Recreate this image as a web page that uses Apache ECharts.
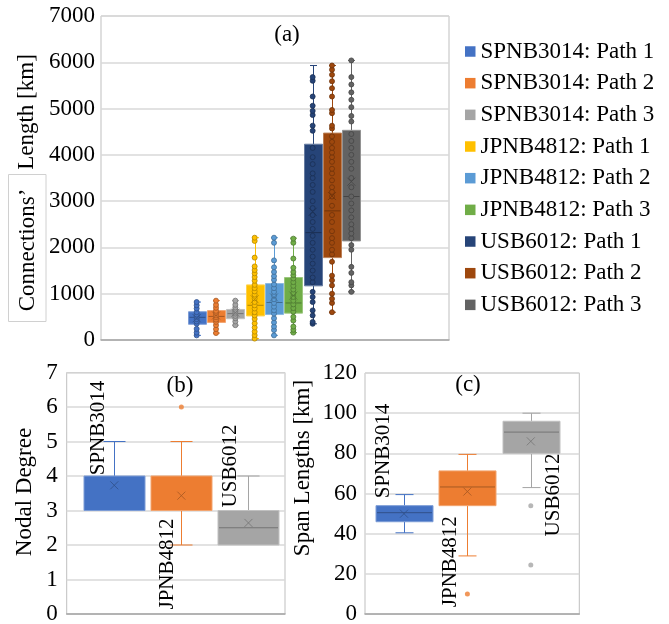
<!DOCTYPE html>
<html><head><meta charset="utf-8">
<script src="https://cdn.jsdelivr.net/npm/echarts@6.0.0/dist/echarts.min.js"></script>
<style>html,body{margin:0;padding:0;background:#fff}#c{width:669px;height:624px}</style>
</head><body><div id="c"></div>
<script>
// ---------- Panel (a): connections' length per path ----------
const pathNames = ['SPNB3014: Path 1','SPNB3014: Path 2','SPNB3014: Path 3',
  'JPNB4812: Path 1','JPNB4812: Path 2','JPNB4812: Path 3',
  'USB6012: Path 1','USB6012: Path 2','USB6012: Path 3'];
const pathColors = ['#4472C4','#ED7D31','#A5A5A5','#FFC000','#5B9BD5','#70AD47','#264478','#9E480E','#636363'];
// [min, Q1, median, Q3, max]
const pathStats = [
  [100, 340, 490, 610, 820],
  [150, 380, 510, 635, 850],
  [320, 460, 570, 660, 850],
  [30, 520, 750, 1190, 2210],
  [100, 550, 810, 1220, 2210],
  [160, 580, 800, 1350, 2200],
  [350, 1170, 2320, 4230, 5930],
  [600, 1780, 2790, 4470, 5930],
  [1040, 2140, 3100, 4530, 6040]
];
const pathMeans = [470, 530, 590, 880, 920, 960, 2770, 3110, 3420];
const pathPoints = [
  [100, 160, 240, 350, 400, 450, 500, 550, 600, 680, 750, 820],
  [150, 235, 320, 390, 440, 490, 530, 580, 630, 695, 760, 850],
  [320, 400, 470, 520, 570, 610, 650, 700, 760, 850],
  [30, 105, 180, 270, 360, 455, 530, 600, 680, 750, 820, 900, 980, 1050, 1120, 1190, 1280, 1360, 1440, 1510, 1590, 1780, 2140, 2210],
  [100, 215, 290, 380, 470, 570, 640, 720, 800, 880, 960, 1040, 1120, 1200, 1300, 1380, 1470, 1570, 1720, 2100, 2210],
  [160, 220, 290, 420, 500, 610, 690, 770, 850, 930, 1010, 1090, 1170, 1250, 1330, 1400, 1470, 1560, 1760, 2100, 2190],
  [350, 390, 530, 640, 820, 930, 1040, 1250, 1350, 1500, 1650, 1800, 1950, 2100, 2250, 2400, 2550, 2700, 2850, 3000, 3200, 3350, 3500, 3600, 3800, 3950, 4150, 4520, 4630, 4860, 4950, 5060, 5260, 5600, 5680],
  [600, 800, 890, 1000, 1180, 1290, 1390, 1690, 1850, 1950, 2100, 2200, 2350, 2550, 2700, 2900, 3100, 3200, 3300, 3450, 3600, 3700, 3850, 3950, 4050, 4150, 4280, 4400, 4570, 4630, 4900, 4970, 5260, 5440, 5590, 5730, 5840, 5930],
  [1040, 1180, 1250, 1450, 1580, 1950, 2050, 2200, 2300, 2400, 2500, 2650, 2800, 2950, 3100, 3300, 3500, 3700, 3850, 4000, 4150, 4300, 4450, 4720, 4840, 5030, 5190, 5350, 5520, 5680, 6040]
];

// ---------- Panels (b) and (c) ----------
const netNames = ['SPNB3014', 'JPNB4812', 'USB6012'];
const netColors = ['#4472C4', '#ED7D31', '#A5A5A5'];
const degreeStats = [[3, 3, 4, 4, 5], [2, 3, 3, 4, 5], [2, 2, 2.5, 3, 4]];
const degreeMeans = [3.73, 3.43, 2.64];
const degreeOutliers = [[], [6], []];
const spanStats = [[40.5, 46, 50.5, 54, 59.5], [29, 54, 63.3, 71.3, 79.5], [63, 80, 90.6, 96, 100]];
const spanMeans = [50, 61, 86];
const spanOutliers = [[], [10], [54, 24.5]];

const FONT = "'Liberation Serif','Times New Roman',serif";

function mix(hex, target, t) {
  const n = parseInt(hex.slice(1), 16);
  const r = (n >> 16) & 255, g = (n >> 8) & 255, b = n & 255;
  const f = v => Math.round(v + (target - v) * t);
  return 'rgb(' + f(r) + ',' + f(g) + ',' + f(b) + ')';
}
const dark = c => mix(c, 0, 0.3);
const light = c => mix(c, 255, 0.3);

function boxRenderer(colors, boxW, capW) {
  return function (params, api) {
    const i = api.value(0);
    const c = colors[i];
    const vMin = api.value(1), vQ1 = api.value(2), vMed = api.value(3), vQ3 = api.value(4), vMax = api.value(5);
    const yMin = api.coord([i, vMin])[1], yQ1 = api.coord([i, vQ1])[1], yMed = api.coord([i, vMed])[1];
    const yQ3 = api.coord([i, vQ3])[1], yMax = api.coord([i, vMax])[1];
    const x = Math.round(api.coord([i, vMin])[0]) + 0.5;
    const ls = { stroke: c, lineWidth: 1, fill: null };
    const ch = [];
    if (vMax > vQ3) {
      ch.push({ type: 'line', shape: { x1: x, y1: yQ3, x2: x, y2: yMax }, style: ls });
      ch.push({ type: 'line', shape: { x1: x - capW / 2, y1: yMax, x2: x + capW / 2, y2: yMax }, style: ls });
    }
    if (vMin < vQ1) {
      ch.push({ type: 'line', shape: { x1: x, y1: yQ1, x2: x, y2: yMin }, style: ls });
      ch.push({ type: 'line', shape: { x1: x - capW / 2, y1: yMin, x2: x + capW / 2, y2: yMin }, style: ls });
    }
    ch.push({ type: 'rect', shape: { x: x - boxW / 2, y: yQ3, width: boxW, height: yQ1 - yQ3 },
      style: { fill: c, stroke: light(c), lineWidth: 1 } });
    if (vMed > vQ1 && vMed < vQ3) {
      ch.push({ type: 'line', shape: { x1: x - boxW / 2 + 1, y1: yMed, x2: x + boxW / 2 - 1, y2: yMed },
        style: { stroke: dark(c), lineWidth: 1 } });
    }
    return { type: 'group', children: ch };
  };
}

const XSYM = 'path://M0,0L10,10M10,0L0,10';

function valueAxis(grid, max, interval, margin) {
  return {
    gridIndex: grid, type: 'value', min: 0, max: max, interval: interval,
    axisLine: { show: false }, axisTick: { show: false },
    axisLabel: { fontFamily: FONT, fontSize: 23, color: '#000', margin: margin, formatter: v => String(v) },
    splitLine: { lineStyle: { color: '#d9d9d9', width: 1.5 } }
  };
}
function hiddenValueAxis(grid, max) {
  return { gridIndex: grid, type: 'value', min: 0, max: max, show: false, splitLine: { show: false } };
}
function baseCat(grid) {
  return { gridIndex: grid, type: 'category', data: [''],
    axisLine: { show: true, lineStyle: { color: '#a6a6a6', width: 1.5 } },
    axisTick: { show: false }, axisLabel: { show: false }, splitLine: { show: false } };
}
function hiddenCat(grid, names) {
  return { gridIndex: grid, type: 'category', data: names, show: false, boundaryGap: true };
}

const gridStyle = { show: true, borderColor: '#bfbfbf', borderWidth: 1, backgroundColor: 'transparent', outerBoundsMode: 'none', containLabel: false };

const series = [];
// Panel (a)
series.push({
  type: 'custom', name: 'boxesA', xAxisIndex: 1, yAxisIndex: 1,
  renderItem: boxRenderer(pathColors, 18, 7),
  encode: { x: 0, y: [1, 2, 3, 4, 5] },
  data: pathStats.map((s, i) => [i].concat(s)), z: 2
});
pathNames.forEach((nm, i) => {
  series.push({
    type: 'scatter', name: nm, xAxisIndex: 1, yAxisIndex: 1,
    symbol: 'circle', symbolSize: 5,
    itemStyle: { color: pathColors[i], borderColor: dark(pathColors[i]), borderWidth: 0.8, opacity: 1 },
    data: pathPoints[i].map(v => [i, v]), z: 3
  });
});
series.push({
  type: 'scatter', name: 'meanA', xAxisIndex: 1, yAxisIndex: 1,
  symbol: XSYM, symbolSize: 8,
  data: pathMeans.map((v, i) => ({ value: [i, v], itemStyle: { color: 'none', borderColor: dark(pathColors[i]), borderWidth: 1 } })), z: 4
});
// Panel (b)
series.push({
  type: 'custom', name: 'boxesB', xAxisIndex: 3, yAxisIndex: 3,
  renderItem: boxRenderer(netColors, 61, 22),
  encode: { x: 0, y: [1, 2, 3, 4, 5] },
  data: degreeStats.map((s, i) => [i].concat(s)), z: 2
});
series.push({
  type: 'scatter', name: 'outB', xAxisIndex: 3, yAxisIndex: 3, symbol: 'circle', symbolSize: 5,
  data: degreeOutliers.flatMap((arr, i) => arr.map(v => ({ value: [i, v], itemStyle: { color: netColors[i] } }))), z: 3
});
series.push({
  type: 'scatter', name: 'meanB', xAxisIndex: 3, yAxisIndex: 3, symbol: XSYM, symbolSize: 8,
  data: degreeMeans.map((v, i) => ({ value: [i, v], itemStyle: { color: 'none', borderColor: dark(netColors[i]), borderWidth: 1 } })), z: 4
});
// Panel (c)
series.push({
  type: 'custom', name: 'boxesC', xAxisIndex: 5, yAxisIndex: 5,
  renderItem: boxRenderer(netColors, 57, 18),
  encode: { x: 0, y: [1, 2, 3, 4, 5] },
  data: spanStats.map((s, i) => [i].concat(s)), z: 2
});
series.push({
  type: 'scatter', name: 'outC', xAxisIndex: 5, yAxisIndex: 5, symbol: 'circle', symbolSize: 5,
  data: spanOutliers.flatMap((arr, i) => arr.map(v => ({ value: [i, v], itemStyle: { color: netColors[i] } }))), z: 3
});
series.push({
  type: 'scatter', name: 'meanC', xAxisIndex: 5, yAxisIndex: 5, symbol: XSYM, symbolSize: 8,
  data: spanMeans.map((v, i) => ({ value: [i, v], itemStyle: { color: 'none', borderColor: dark(netColors[i]), borderWidth: 1 } })), z: 4
});

function txt(text, x, y, size, rot) {
  return { type: 'text', x: x, y: y, rotation: rot || 0, z: 10,
    style: { text: text, fontFamily: FONT, fontSize: size, fill: '#000', align: 'center', verticalAlign: 'middle' } };
}
const R = Math.PI / 2;

const option = {
  animation: false,
  backgroundColor: '#fff',
  grid: [
    Object.assign({ left: 101, top: 16, width: 348, height: 324 }, gridStyle),
    { left: 187, top: 16, width: 174, height: 324, show: false, outerBoundsMode: 'none', containLabel: false },
    Object.assign({ left: 66.7, top: 372.5, width: 218.3, height: 241.5 }, gridStyle),
    { left: 80.7, top: 372.5, width: 201.3, height: 241.5, show: false, outerBoundsMode: 'none', containLabel: false },
    Object.assign({ left: 365, top: 373, width: 214.3, height: 241.2 }, gridStyle),
    { left: 372.3, top: 373, width: 190.2, height: 241.2, show: false, outerBoundsMode: 'none', containLabel: false }
  ],
  xAxis: [baseCat(0), hiddenCat(1, pathNames), baseCat(2), hiddenCat(3, netNames), baseCat(4), hiddenCat(5, netNames)],
  yAxis: [valueAxis(0, 7000, 1000, 6), hiddenValueAxis(1, 7000),
          valueAxis(2, 7, 1, 9), hiddenValueAxis(3, 7),
          valueAxis(4, 120, 20, 8), hiddenValueAxis(5, 120)],
  legend: {
    data: pathNames, orient: 'vertical', left: 460, top: 34.5,
    icon: 'rect', itemWidth: 10.5, itemHeight: 10.5, itemGap: 7.67,
    itemStyle: { borderWidth: 0 },
    textStyle: { fontFamily: FONT, fontSize: 23, color: '#000', lineHeight: 24 },
    selectedMode: false
  },
  graphic: [
    txt('(a)', 287, 35, 23),
    txt('Length [km]', 27, 112, 23, R),
    txt('Connections\u2019', 28, 250, 23, R),
    { type: 'rect', z: 10, shape: { x: 8.5, y: 174.5, width: 37.5, height: 147 }, style: { fill: null, stroke: '#d0d0d0', lineWidth: 1 } },
    txt('(b)', 180, 386, 23),
    txt('Nodal Degree', 25, 492, 23, R),
    txt('SPNB3014', 98.5, 428, 21, R),
    txt('JPNB4812', 167.5, 564, 21, R),
    txt('USB6012', 230, 466, 21, R),
    txt('(c)', 468, 385, 23),
    txt('Span Lengths [km]', 303, 468, 23, R),
    txt('SPNB3014', 383.3, 451, 21, R),
    txt('JPNB4812', 450, 561.7, 21, R),
    txt('USB6012', 553.3, 495, 21, R)
  ],
  series: series
};
const chart = echarts.init(document.getElementById('c'), null, { renderer: 'canvas' });
chart.setOption(option);
</script></body></html>
